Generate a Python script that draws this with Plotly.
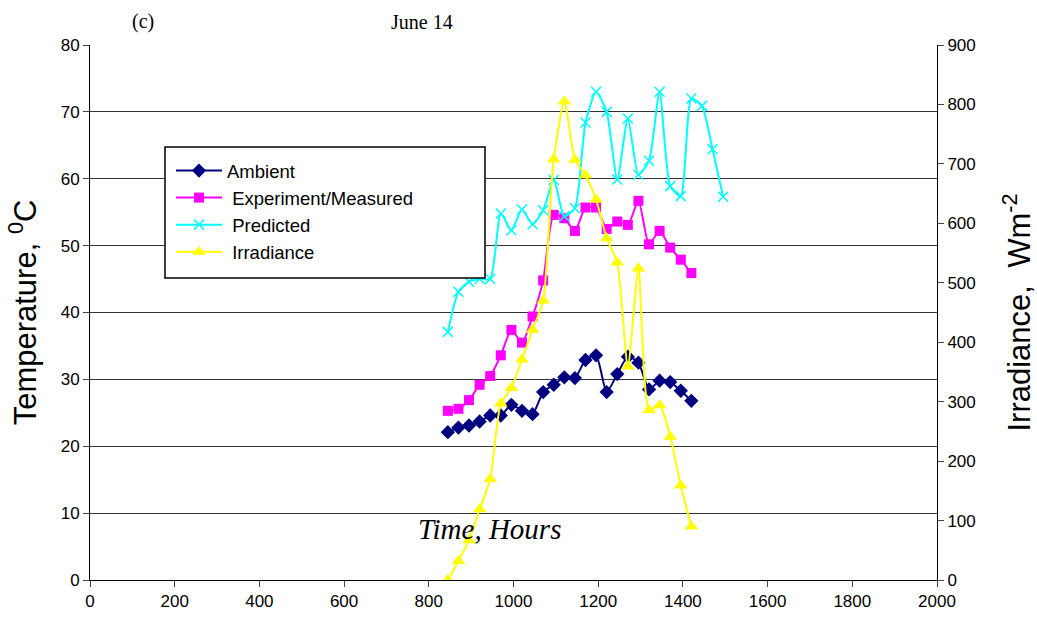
import plotly.graph_objects as go

time_amb = [845 + 25 * i for i in range(24)]
ambient = [22.1, 22.8, 23.1, 23.7, 24.6, 24.6, 26.2, 25.3, 24.8, 28.1, 29.2, 30.3,
           30.2, 32.9, 33.6, 28.1, 30.8, 33.4, 32.5, 28.5, 29.8, 29.6, 28.3, 26.8]
measured = [25.3, 25.6, 26.9, 29.2, 30.5, 33.6, 37.4, 35.5, 39.4, 44.8, 54.6, 54.1,
            52.2, 55.7, 55.7, 52.5, 53.6, 53.1, 56.7, 50.2, 52.2, 49.7, 47.9, 45.9]
time_pred = [845 + 25 * i for i in range(27)]
predicted = [37.1, 43.1, 44.6, 45.0, 45.0, 54.8, 52.3, 55.4, 53.2, 55.3, 59.8, 54.4,
             55.6, 68.4, 73.0, 70.0, 59.9, 69.0, 60.6, 62.7, 73.0, 58.9, 57.4, 72.0,
             70.9, 64.4, 57.3]
irradiance = [0, 32, 67, 119, 170, 297, 323, 371, 421, 470, 708, 805,
              707, 681, 640, 575, 534, 359, 524, 286, 294, 241, 159, 90]

L, R, T, B = 90, 937, 45, 580
W, H = 1037, 619


def px(x):
    return (x - L) / (R - L)


def py(y):
    return (B - y) / (B - T)


fig = go.Figure()
fig.add_trace(go.Scatter(x=time_amb, y=ambient, name="Ambient", mode="lines+markers",
                         line=dict(color="#000080", width=2, shape="spline", smoothing=0.6),
                         marker=dict(symbol="diamond", size=11, color="#000080")))
fig.add_trace(go.Scatter(x=time_amb, y=measured, name=" Experiment/Measured", mode="lines+markers",
                         line=dict(color="#FF00FF", width=2, shape="spline", smoothing=0.6),
                         marker=dict(symbol="square", size=10, color="#FF00FF")))
fig.add_trace(go.Scatter(x=time_pred, y=predicted, name=" Predicted", mode="lines+markers",
                         line=dict(color="#00FFFF", width=2, shape="spline", smoothing=0.6),
                         marker=dict(symbol="x-thin", size=10, line=dict(color="#00FFFF", width=1.5))))
fig.add_trace(go.Scatter(x=time_amb, y=irradiance, name=" Irradiance", mode="lines+markers", yaxis="y2",
                         line=dict(color="#FFFF00", width=2, shape="spline", smoothing=0.6),
                         marker=dict(symbol="triangle-up", size=12, color="#FFFF00")))

fig.update_layout(
    width=W, height=H,
    margin=dict(l=L, r=W - R, t=T, b=H - B, autoexpand=False),
    paper_bgcolor="white", plot_bgcolor="white",
    font=dict(family="Liberation Sans, Arial", size=17, color="black"),
    showlegend=True,
    legend=dict(x=px(171), y=py(152), xanchor="left", yanchor="top", bgcolor="rgba(0,0,0,0)",
                borderwidth=0, font=dict(size=18.5), tracegroupgap=0, itemwidth=46),
    xaxis=dict(range=[0, 2000], dtick=200, ticks="outside", ticklen=6, showgrid=False,
               showline=True, linecolor="black", linewidth=1, zeroline=False,
               tickfont=dict(size=17), automargin=False),
    yaxis=dict(range=[0, 80], dtick=10, ticks="outside", ticklen=6, showgrid=True,
               gridcolor="#333333", gridwidth=1, showline=True, linecolor="black",
               linewidth=1, zeroline=False, tickfont=dict(size=17), automargin=False,
               title=dict(text="Temperature, <sup>0</sup>C", font=dict(size=31), standoff=14)),
    yaxis2=dict(range=[0, 900], dtick=100, overlaying="y", side="right", ticks="outside",
                ticklen=6, showgrid=False, showline=True, linecolor="black", linewidth=1,
                zeroline=False, tickfont=dict(size=17), automargin=False,
                title=dict(text="Irradiance,  Wm<sup>-2</sup>", font=dict(size=31), standoff=42)),
    shapes=[dict(type="rect", xref="paper", yref="paper",
                 x0=px(165), x1=px(485), y0=py(278), y1=py(147),
                 fillcolor="white", line=dict(color="black", width=1.5), layer="above")],
    annotations=[
        dict(text="(c)", xref="paper", yref="paper", x=px(143), y=py(22), xanchor="center",
             yanchor="middle", showarrow=False, font=dict(family="Liberation Serif", size=20)),
        dict(text="June 14", xref="paper", yref="paper", x=px(422), y=py(22), xanchor="center",
             yanchor="middle", showarrow=False, font=dict(family="Liberation Serif", size=20)),
        dict(text="<i>Time, Hours</i>", xref="paper", yref="paper", x=px(489), y=py(529),
             xanchor="center", yanchor="middle", showarrow=False,
             font=dict(family="Liberation Serif", size=29)),
    ],
)

fig.write_html("out.html")
